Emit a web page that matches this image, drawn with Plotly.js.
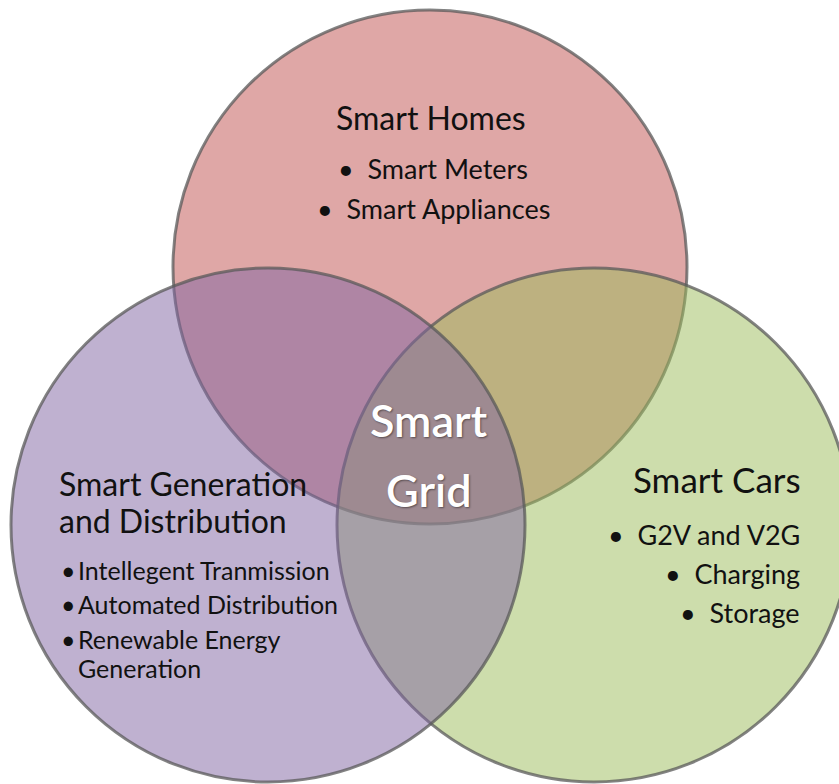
<!DOCTYPE html>
<html>
<head>
<meta charset="utf-8">
<script src="https://cdn.plot.ly/plotly-3.0.1.min.js"></script>
<style>html,body{margin:0;padding:0;background:#fff;}#chart{width:839px;height:784px;}</style>
</head>
<body>
<div id="chart"></div>
<script>
// ---- data ----
const setNames = ["Smart Homes", "Smart Generation and Distribution", "Smart Cars"];
const setCenterX = [430, 268, 594];
const setCenterY = [267, 525, 525];
const setRadius = [257, 257, 257];
const setColors = ["rgba(192,80,77,0.5)", "rgba(128,100,162,0.5)", "rgba(155,187,89,0.5)"];
const drawOrder = [0, 2, 1];
const homesItems = ["Smart Meters", "Smart Appliances"];
const generationItems = ["Intellegent Tranmission", "Automated Distribution", "Renewable Energy", "Generation"];
const carsItems = ["G2V and V2G", "Charging", "Storage"];
const centerLabel = ["Smart", "Grid"];

const FONT = "Lato, 'Open Sans', sans-serif";
const shapes = drawOrder.map(i => ({
  type: "circle", xref: "x", yref: "y", layer: "below",
  x0: setCenterX[i] - setRadius[i], x1: setCenterX[i] + setRadius[i],
  y0: setCenterY[i] - setRadius[i], y1: setCenterY[i] + setRadius[i],
  fillcolor: setColors[i],
  line: { color: "rgba(90,90,90,0.75)", width: 3 }
}));

const ann = [];
function txt(text, x, y, size, xanchor, color, extra) {
  ann.push(Object.assign({
    text: text, x: x, y: y, xref: "x", yref: "y", showarrow: false,
    xanchor: xanchor, yanchor: "middle",
    font: { family: FONT, size: size, color: color || "#111" }
  }, extra || {}));
}
// Smart Homes
txt(setNames[0], 431, 117, 32, "center");
txt("•  " + homesItems[0], 433, 168, 27, "center");
txt("•  " + homesItems[1], 433, 208, 27, "center");
// Smart Generation
txt("Smart Generation", 57, 483, 32, "left");
txt("and Distribution", 57, 520, 32, "left");
const genY = [570, 604, 639, 668];
generationItems.forEach((t, i) => {
  if (i < 3) txt("•", 59, genY[i], 25, "left");
  txt(t, 76, genY[i], 25, "left");
});
// Smart Cars
txt(setNames[2], 803, 479, 35, "right");
const carY = [534, 573, 612];
carsItems.forEach((t, i) => txt("•  " + t, 802, carY[i], 27, "right"));
// Center
txt(centerLabel[0], 429, 420, 45, "center", "#ffffff");
txt(centerLabel[1], 429, 490, 45, "center", "#ffffff");
ann.slice(-2).forEach(a => { a.font.weight = 600; a.font.shadow = "1px 1px 2px rgba(0,0,0,0.45)"; });

const data = [{
  type: "scatter", mode: "markers", x: setCenterX, y: setCenterY,
  marker: { size: 1, opacity: 0 }, hoverinfo: "skip", showlegend: false
}];

const layout = {
  width: 839, height: 784,
  margin: { l: 0, r: 0, t: 0, b: 0 },
  paper_bgcolor: "#ffffff", plot_bgcolor: "rgba(0,0,0,0)",
  xaxis: { range: [0, 839], visible: false, fixedrange: true },
  yaxis: { range: [784, 0], visible: false, fixedrange: true },
  shapes: shapes, annotations: ann, showlegend: false
};
Plotly.newPlot("chart", data, layout, { staticPlot: true, displayModeBar: false });
</script>
</body>
</html>
